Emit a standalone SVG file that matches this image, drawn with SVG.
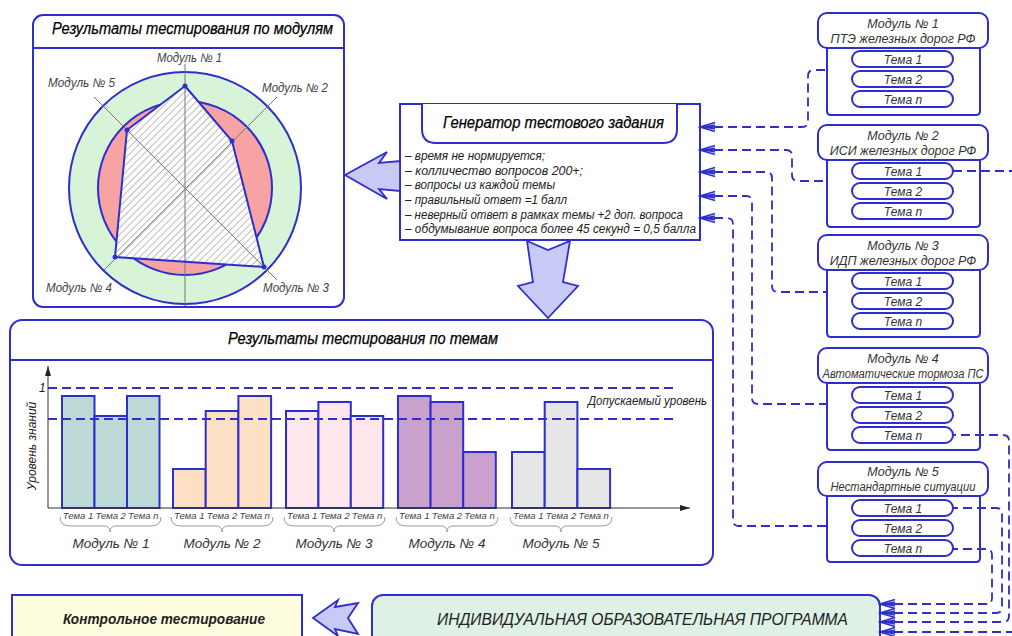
<svg xmlns="http://www.w3.org/2000/svg" width="1012" height="636" viewBox="0 0 1012 636">
<defs>
<style>
.box{fill:#fff;stroke:#2e2ecf;stroke-width:2}
.t{font-family:"Liberation Sans","DejaVu Sans",sans-serif;font-style:italic;fill:#222}
.title{font-size:16px;fill:#000;stroke:#000;stroke-width:0.25}
.lbl{font-size:12.5px;fill:#444}
.itm{font-size:12px;fill:#222}
.hdr{font-size:12.5px;fill:#333;text-anchor:middle}
.tema{font-size:12px;fill:#333;text-anchor:middle}
.small{font-size:9.5px;fill:#444;text-anchor:middle}
.mod{font-size:13.5px;fill:#333;text-anchor:middle}
.axis{stroke:#777;stroke-width:1;fill:none}
.dash{fill:none;stroke:#2e2ecf;stroke-width:1.8;stroke-dasharray:9 5}
.big{fill:#c9c9f5;stroke:#2e2ecf;stroke-width:1.8;stroke-linejoin:miter}
.bar{stroke:#2e2ecf;stroke-width:2}
.brace{fill:none;stroke:#999;stroke-width:1}
.conn{fill:none;stroke:#2e2ecf;stroke-width:1.8;stroke-dasharray:9 5;marker-start:url(#ah)}
</style>
<pattern id="hatch" patternUnits="userSpaceOnUse" width="5" height="5" patternTransform="rotate(45)">
<rect width="5" height="5" fill="#fff"/>
<line x1="0" y1="0" x2="0" y2="5" stroke="#777" stroke-width="1"/>
</pattern>
<marker id="ah" viewBox="-17 -6 19 12" refX="0" refY="0" markerWidth="19" markerHeight="12" markerUnits="userSpaceOnUse" orient="auto-start-reverse">
<path d="M-15,-4.5 L0,0 L-15,4.5 M-15,-2 L-5,0 L-15,2 M-16,0 L0,0" fill="none" stroke="#2e2ecf" stroke-width="1.6"/>
</marker>
<marker id="ax" viewBox="0 0 10 6" refX="10" refY="3" markerWidth="10" markerHeight="6" markerUnits="userSpaceOnUse" orient="auto">
<path d="M0,0 L10,3 L0,6 Z" fill="#222"/>
</marker>
</defs>

<rect width="1012" height="636" fill="#fff"/>

<!-- Radar panel -->
<g id="radar-panel">
<rect class="box" x="33" y="15" width="311" height="292" rx="10"/>
<line x1="33" y1="48" x2="344" y2="48" stroke="#2e2ecf" stroke-width="2"/>
<text class="t title" x="52" y="34" textLength="281" lengthAdjust="spacingAndGlyphs">Результаты тестирования по модулям</text>
<circle cx="185" cy="188" r="116" fill="#d8f4d8" stroke="#2e2ecf" stroke-width="2"/>
<circle cx="185" cy="188" r="87" fill="#f7a3a3" stroke="#2e2ecf" stroke-width="2"/>
<polygon points="185,86 232,141 264,267 115,257 127,130" fill="url(#hatch)" stroke="none"/>
<line class="axis" x1="185" y1="64" x2="185" y2="306"/>
<line class="axis" x1="94" y1="97" x2="277" y2="280"/>
<line class="axis" x1="277" y1="97" x2="104" y2="270"/>
<polygon points="185,86 232,141 264,267 115,257 127,130" fill="none" stroke="#2e2ecf" stroke-width="2"/>
<g fill="#2e2ecf">
<circle cx="185" cy="86" r="2.5"/><circle cx="232" cy="141" r="2.5"/><circle cx="264" cy="267" r="2.5"/><circle cx="115" cy="257" r="2.5"/><circle cx="127" cy="130" r="2.5"/>
</g>
<text class="t lbl" x="157" y="62" textLength="65" lengthAdjust="spacingAndGlyphs">Модуль № 1</text>
<text class="t lbl" x="48" y="87" textLength="67" lengthAdjust="spacingAndGlyphs">Модуль № 5</text>
<text class="t lbl" x="262" y="92" textLength="66" lengthAdjust="spacingAndGlyphs">Модуль № 2</text>
<text class="t lbl" x="46" y="292" textLength="66" lengthAdjust="spacingAndGlyphs">Модуль № 4</text>
<text class="t lbl" x="263" y="292" textLength="66" lengthAdjust="spacingAndGlyphs">Модуль № 3</text>
</g>

<!-- Generator -->
<g id="generator">
<rect class="box" x="400" y="104" width="300" height="136"/>
<path d="M422,104 V129 Q422,143 436,143 H663 Q677,143 677,129 V104" fill="#fff" stroke="#2e2ecf" stroke-width="2"/>
<text class="t title" x="443" y="128" textLength="221" lengthAdjust="spacingAndGlyphs">Генератор тестового задания</text>
<text class="t itm" x="405" y="160" textLength="140" lengthAdjust="spacingAndGlyphs">– время не нормируется;</text>
<text class="t itm" x="405" y="175" textLength="178" lengthAdjust="spacingAndGlyphs">– колличество вопросов 200+;</text>
<text class="t itm" x="405" y="189" textLength="150" lengthAdjust="spacingAndGlyphs">– вопросы из каждой темы</text>
<text class="t itm" x="405" y="204" textLength="162" lengthAdjust="spacingAndGlyphs">– правильный ответ =1 балл</text>
<text class="t itm" x="405" y="219" textLength="278" lengthAdjust="spacingAndGlyphs">– неверный ответ в рамках темы +2 доп. вопроса</text>
<text class="t itm" x="405" y="233" textLength="291" lengthAdjust="spacingAndGlyphs">– обдумывание вопроса более 45 секунд = 0,5 балла</text>
</g>

<!-- Bar chart panel -->
<g id="bars-panel">
<rect class="box" x="10" y="320" width="703" height="245" rx="12"/>
<line x1="10" y1="360" x2="713" y2="360" stroke="#2e2ecf" stroke-width="2"/>
<text class="t title" x="228" y="344" textLength="270" lengthAdjust="spacingAndGlyphs">Результаты тестирования по темам</text>
<g>
<rect class="bar" fill="#bcd9d6" x="62" y="396" width="32.5" height="112"/>
<rect class="bar" fill="#bcd9d6" x="94.5" y="416" width="32.5" height="92"/>
<rect class="bar" fill="#bcd9d6" x="127" y="396" width="32.5" height="112"/>
<rect class="bar" fill="#fddfc4" x="173" y="469" width="32.7" height="39"/>
<rect class="bar" fill="#fddfc4" x="205.7" y="411" width="32.7" height="97"/>
<rect class="bar" fill="#fddfc4" x="238.4" y="396" width="32.7" height="112"/>
<rect class="bar" fill="#fde6ec" x="286" y="411" width="32.4" height="97"/>
<rect class="bar" fill="#fde6ec" x="318.4" y="402" width="32.4" height="106"/>
<rect class="bar" fill="#fde6ec" x="350.8" y="416" width="32.4" height="92"/>
<rect class="bar" fill="#caa0cc" x="398" y="396" width="32.6" height="112"/>
<rect class="bar" fill="#caa0cc" x="430.6" y="402" width="32.6" height="106"/>
<rect class="bar" fill="#caa0cc" x="463.2" y="452" width="32.6" height="56"/>
<rect class="bar" fill="#e6e6e6" x="512" y="452" width="32.7" height="56"/>
<rect class="bar" fill="#e6e6e6" x="544.7" y="402" width="32.7" height="106"/>
<rect class="bar" fill="#e6e6e6" x="577.4" y="469" width="32.7" height="39"/>
</g>
<line x1="48" y1="508" x2="690" y2="508" stroke="#333" stroke-width="1" marker-end="url(#ax)"/>
<line x1="48" y1="508" x2="48" y2="366" stroke="#333" stroke-width="1" marker-end="url(#ax)"/>
<line class="dash" x1="48" y1="388" x2="678" y2="388"/>
<line class="dash" x1="48" y1="419" x2="678" y2="419"/>
<text class="t" x="39" y="392" font-size="12" fill="#333">1</text>
<text class="t" x="588" y="405" font-size="12" fill="#444" textLength="119" lengthAdjust="spacingAndGlyphs">Допускаемый уровень</text>
<text class="t" transform="translate(36,446) rotate(-90)" text-anchor="middle" font-size="12" fill="#444">Уровень знаний</text>
<g>
<text class="t small" x="78" y="519">Тема 1</text><text class="t small" x="110.7" y="519">Тема 2</text><text class="t small" x="143.3" y="519">Тема n</text>
<text class="t small" x="189.3" y="519">Тема 1</text><text class="t small" x="222" y="519">Тема 2</text><text class="t small" x="254.7" y="519">Тема n</text>
<text class="t small" x="302.2" y="519">Тема 1</text><text class="t small" x="334.6" y="519">Тема 2</text><text class="t small" x="367" y="519">Тема n</text>
<text class="t small" x="414.3" y="519">Тема 1</text><text class="t small" x="446.9" y="519">Тема 2</text><text class="t small" x="479.5" y="519">Тема n</text>
<text class="t small" x="528.3" y="519">Тема 1</text><text class="t small" x="561" y="519">Тема 2</text><text class="t small" x="593.7" y="519">Тема n</text>
</g>
<g>
<path class="brace" d="M60,517 Q60,526 70,526 H104 Q110,526 110,532 Q110,526 116,526 H151 Q161,526 161,517"/>
<path class="brace" d="M171,517 Q171,526 181,526 H216 Q222,526 222,532 Q222,526 228,526 H263 Q273,526 273,517"/>
<path class="brace" d="M284,517 Q284,526 294,526 H328 Q334,526 334,532 Q334,526 340,526 H375 Q385,526 385,517"/>
<path class="brace" d="M396,517 Q396,526 406,526 H441 Q447,526 447,532 Q447,526 453,526 H488 Q498,526 498,517"/>
<path class="brace" d="M510,517 Q510,526 520,526 H555 Q561,526 561,532 Q561,526 567,526 H602 Q612,526 612,517"/>
</g>
<text class="t mod" x="111" y="548">Модуль № 1</text>
<text class="t mod" x="222" y="548">Модуль № 2</text>
<text class="t mod" x="334" y="548">Модуль № 3</text>
<text class="t mod" x="447" y="548">Модуль № 4</text>
<text class="t mod" x="561" y="548">Модуль № 5</text>
</g>

<!-- Modules -->
<g id="module-1">
<path class="box" d="M827,48 V111 Q827,115 831,115 H976 Q980,115 980,111 V48"/>
<rect class="box" x="818" y="13" width="170" height="35" rx="9"/>
<text class="t hdr" x="903" y="28">Модуль № 1</text>
<text class="t hdr" x="903" y="43">ПТЭ железных дорог РФ</text>
<rect class="box" x="852" y="51" width="101" height="16" rx="8"/><text class="t tema" x="903" y="64">Тема 1</text>
<rect class="box" x="852" y="71" width="101" height="16" rx="8"/><text class="t tema" x="903" y="84">Тема 2</text>
<rect class="box" x="852" y="91" width="101" height="16" rx="8"/><text class="t tema" x="903" y="104">Тема n</text>
</g>
<g id="module-2">
<path class="box" d="M827,160 V223 Q827,227 831,227 H976 Q980,227 980,223 V160"/>
<rect class="box" x="818" y="125" width="170" height="35" rx="9"/>
<text class="t hdr" x="903" y="140">Модуль № 2</text>
<text class="t hdr" x="903" y="155">ИСИ железных дорог РФ</text>
<rect class="box" x="852" y="163" width="101" height="16" rx="8"/><text class="t tema" x="903" y="176">Тема 1</text>
<rect class="box" x="852" y="183" width="101" height="16" rx="8"/><text class="t tema" x="903" y="196">Тема 2</text>
<rect class="box" x="852" y="203" width="101" height="16" rx="8"/><text class="t tema" x="903" y="216">Тема n</text>
</g>
<g id="module-3">
<path class="box" d="M827,270 V333 Q827,337 831,337 H976 Q980,337 980,333 V270"/>
<rect class="box" x="818" y="235" width="170" height="35" rx="9"/>
<text class="t hdr" x="903" y="250">Модуль № 3</text>
<text class="t hdr" x="903" y="265">ИДП железных дорог РФ</text>
<rect class="box" x="852" y="273" width="101" height="16" rx="8"/><text class="t tema" x="903" y="286">Тема 1</text>
<rect class="box" x="852" y="293" width="101" height="16" rx="8"/><text class="t tema" x="903" y="306">Тема 2</text>
<rect class="box" x="852" y="313" width="101" height="16" rx="8"/><text class="t tema" x="903" y="326">Тема n</text>
</g>
<g id="module-4">
<path class="box" d="M827,383 V446 Q827,450 831,450 H976 Q980,450 980,446 V383"/>
<rect class="box" x="818" y="348" width="170" height="35" rx="9"/>
<text class="t hdr" x="903" y="363">Модуль № 4</text>
<text class="t hdr" x="903" y="378" textLength="161" lengthAdjust="spacingAndGlyphs">Автоматические тормоза ПС</text>
<rect class="box" x="852" y="387" width="101" height="16" rx="8"/><text class="t tema" x="903" y="400">Тема 1</text>
<rect class="box" x="852" y="407" width="101" height="16" rx="8"/><text class="t tema" x="903" y="420">Тема 2</text>
<rect class="box" x="852" y="427" width="101" height="16" rx="8"/><text class="t tema" x="903" y="440">Тема n</text>
</g>
<g id="module-5">
<path class="box" d="M827,496 V558 Q827,562 831,562 H976 Q980,562 980,558 V496"/>
<rect class="box" x="818" y="462" width="170" height="34" rx="9"/>
<text class="t hdr" x="903" y="476">Модуль № 5</text>
<text class="t hdr" x="903" y="491" textLength="145" lengthAdjust="spacingAndGlyphs">Нестандартные ситуации</text>
<rect class="box" x="852" y="500" width="101" height="16" rx="8"/><text class="t tema" x="903" y="513">Тема 1</text>
<rect class="box" x="852" y="520" width="101" height="16" rx="8"/><text class="t tema" x="903" y="533">Тема 2</text>
<rect class="box" x="852" y="540" width="101" height="16" rx="8"/><text class="t tema" x="903" y="553">Тема n</text>
</g>

<!-- Bottom boxes -->
<g id="control-testing">
<rect x="12" y="595" width="290" height="50" fill="#fffde0" stroke="#2e2ecf" stroke-width="2"/>
<text class="t" x="63" y="624" font-size="15" font-weight="bold" fill="#111" textLength="202" lengthAdjust="spacingAndGlyphs">Контрольное тестирование</text>
</g>
<g id="individual-program">
<rect x="372" y="595" width="508" height="60" rx="11" fill="#dff0e6" stroke="#2e2ecf" stroke-width="2"/>
<text class="t" x="437" y="625" font-size="17" fill="#333" textLength="411" lengthAdjust="spacingAndGlyphs">ИНДИВИДУАЛЬНАЯ ОБРАЗОВАТЕЛЬНАЯ ПРОГРАММА</text>
</g>

<!-- Connectors -->
<g id="connectors">
<polygon class="big" points="345,175 387,152 379,163 400,161 400,191 379,189 387,199"/>
<polygon class="big" points="527,241 548,250 570,241 563,282 578,286 548,318 518,286 533,282"/>
<polygon class="big" points="313,618 338,600 335,607 358,603 348,618 358,634 335,629 338,636"/>
<path class="conn" d="M700,127 H802 Q808,127 808,121 V76 Q808,70 814,70 H827"/>
<path class="conn" d="M700,150 H786 Q792,150 792,156 V175 Q792,181 798,181 H827"/>
<path class="conn" d="M700,172 H766 Q772,172 772,178 V286 Q772,292 778,292 H827"/>
<path class="conn" d="M700,196 H746 Q752,196 752,202 V398 Q752,404 758,404 H827"/>
<path class="conn" d="M700,218 H727 Q733,218 733,224 V520 Q733,526 739,526 H827"/>
<path class="dash" d="M953,171 H1012"/>
<path class="conn" d="M880,632 H1012"/>
<path class="conn" d="M880,622 H1003 Q1009,622 1009,616 V441 Q1009,435 1003,435 H953"/>
<path class="conn" d="M880,613 H996 Q1002,613 1002,607 V514 Q1002,508 996,508 H953"/>
<path class="conn" d="M880,604 H986 Q992,604 992,598 V555 Q992,549 986,549 H953"/>
</g>
</svg>
